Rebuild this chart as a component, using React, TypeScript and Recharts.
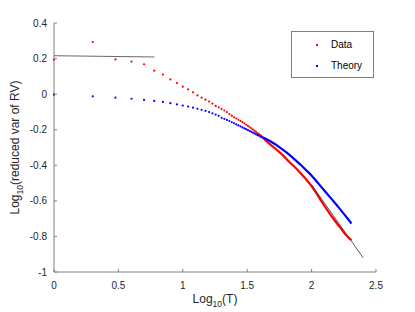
import { ComposedChart, Scatter, XAxis, YAxis, Legend } from 'recharts';

const RED = '#ff0000';
const BLUE = '#0000ff';
const AXIS = '#808080';
const TEXT = '#262626';
const FONT = '"Liberation Sans", Arial, Helvetica, sans-serif';

// step sizes T = 1..40, plotted at log10(T) as separate dots
const T_STEPS = [
  1, 2, 3, 4, 5, 6, 7, 8, 9, 10, 11, 12, 13, 14, 15, 16, 17, 18, 19, 20,
  21, 22, 23, 24, 25, 26, 27, 28, 29, 30, 31, 32, 33, 34, 35, 36, 37, 38, 39, 40,
];
const RED_STEPS = [
  0.194, 0.293, 0.195, 0.183, 0.168, 0.132, 0.11, 0.083, 0.062, 0.042,
  0.027, 0.01, -0.007, -0.02, -0.031, -0.042, -0.053, -0.066, -0.074, -0.084,
  -0.092, -0.101, -0.112, -0.121, -0.13, -0.137, -0.144, -0.15, -0.157, -0.164,
  -0.171, -0.178, -0.185, -0.192, -0.199, -0.206, -0.212, -0.219, -0.225, -0.231,
];
const BLUE_STEPS = [
  -0.003, -0.012, -0.02, -0.026, -0.032, -0.038, -0.044, -0.051, -0.058, -0.064,
  -0.07, -0.076, -0.082, -0.088, -0.094, -0.101, -0.108, -0.115, -0.122, -0.133,
  -0.139, -0.145, -0.151, -0.158, -0.164, -0.17, -0.176, -0.181, -0.187, -0.192,
  -0.197, -0.202, -0.207, -0.212, -0.217, -0.221, -0.226, -0.23, -0.234, -0.238,
];

// dense part (T > 40): dots merge into a solid trace
const TAIL_LOG_T = [
  1.602, 1.64, 1.68, 1.72, 1.757, 1.8, 1.835, 1.875, 1.913, 1.95,
  1.991, 2.03, 2.068, 2.107, 2.146, 2.185, 2.224, 2.26, 2.302, 2.309,
];
const RED_TAIL = [
  -0.231, -0.258, -0.284, -0.307, -0.33, -0.361, -0.387, -0.414, -0.443, -0.473,
  -0.508, -0.549, -0.593, -0.636, -0.677, -0.716, -0.752, -0.787, -0.817, -0.821,
];
const BLUE_TAIL = [
  -0.238, -0.25, -0.265, -0.283, -0.302, -0.325, -0.346, -0.371, -0.396, -0.422,
  -0.451, -0.483, -0.516, -0.549, -0.582, -0.615, -0.649, -0.682, -0.72, -0.728,
];

// reference fit lines
const FIT_SHORT = [
  { x: 0, y: 0.216 },
  { x: 0.78, y: 0.209 },
];
const FIT_LONG = [
  { x: 2.0, y: -0.51 },
  { x: 2.4, y: -0.92 },
];

const X_TICKS = [0, 0.5, 1, 1.5, 2, 2.5];
const Y_TICKS = [-1, -0.8, -0.6, -0.4, -0.2, 0, 0.2, 0.4];

const redDots = T_STEPS.map((t, i) => ({ x: Math.log10(t), y: RED_STEPS[i] }));
const blueDots = T_STEPS.map((t, i) => ({ x: Math.log10(t), y: BLUE_STEPS[i] }));
const redTail = TAIL_LOG_T.map((x, i) => ({ x, y: RED_TAIL[i] }));
const blueTail = TAIL_LOG_T.map((x, i) => ({ x, y: BLUE_TAIL[i] }));

const dot = (color: string) => (p: any) => <circle cx={p.cx} cy={p.cy} r={1.1} fill={color} />;
const noDot = () => <g />;

function BottomTick({ x, y, payload }: any) {
  return (
    <g>
      <line x1={x} y1={y} x2={x} y2={y - 3} stroke={AXIS} />
      <text x={x} y={y + 17} textAnchor="middle" fontSize={10} fill={TEXT} fontFamily={FONT}>
        {payload.value}
      </text>
    </g>
  );
}

function TopTick({ x, y }: any) {
  return <line x1={x} y1={y} x2={x} y2={y + 3} stroke={AXIS} />;
}

function LeftTick({ x, y, payload }: any) {
  return (
    <g>
      <line x1={x} y1={y} x2={x + 3} y2={y} stroke={AXIS} />
      <text x={x - 7} y={y + 3.5} textAnchor="end" fontSize={10} fill={TEXT} fontFamily={FONT}>
        {payload.value}
      </text>
    </g>
  );
}

function RightTick({ x, y }: any) {
  return <line x1={x} y1={y} x2={x - 3} y2={y} stroke={AXIS} />;
}

function XLabel({ viewBox }: any) {
  const cx = viewBox.x + viewBox.width / 2;
  return (
    <text x={cx} y={viewBox.y + 31} textAnchor="middle" fontSize={12} fill={TEXT} fontFamily={FONT}>
      <tspan>Log</tspan>
      <tspan fontSize={8.5} dy={4}>10</tspan>
      <tspan dy={-4}>(T)</tspan>
    </text>
  );
}

function YLabel({ viewBox }: any) {
  const cy = viewBox.y + viewBox.height / 2;
  const x = 19;
  return (
    <text
      x={x}
      y={cy}
      transform={`rotate(-90 ${x} ${cy})`}
      textAnchor="middle"
      fontSize={12}
      fill={TEXT}
      fontFamily={FONT}
    >
      <tspan>Log</tspan>
      <tspan fontSize={8.5} dy={4}>10</tspan>
      <tspan dy={-4}>(reduced var of RV)</tspan>
    </text>
  );
}

function LegendBox() {
  const row = (color: string, label: string) => (
    <div style={{ display: 'flex', alignItems: 'center', height: 21 }}>
      <span style={{ width: 2, height: 2, background: color, marginLeft: 24, marginRight: 13 }} />
      <span>{label}</span>
    </div>
  );
  return (
    <div
      style={{
        boxSizing: 'border-box',
        width: 83,
        height: 47,
        border: `1px solid ${AXIS}`,
        background: '#fff',
        fontFamily: FONT,
        fontSize: 10,
        color: '#000',
        paddingTop: 2,
      }}
    >
      {row(RED, 'Data')}
      {row(BLUE, 'Theory')}
    </div>
  );
}

export default function App() {
  return (
    <div style={{ position: 'absolute', left: 0, top: 0, width: 415, height: 312, background: '#fff' }}>
      <ComposedChart width={415} height={312} margin={{ top: 23, right: 39, bottom: 0, left: 0 }}>
        <XAxis
          xAxisId="b"
          type="number"
          dataKey="x"
          domain={[0, 2.5]}
          ticks={X_TICKS}
          interval={0}
          height={40}
          tickSize={0}
          tickMargin={0}
          tickLine={false}
          axisLine={{ stroke: AXIS }}
          tick={BottomTick}
          label={<XLabel />}
        />
        <XAxis
          xAxisId="t"
          orientation="top"
          type="number"
          dataKey="x"
          domain={[0, 2.5]}
          ticks={X_TICKS}
          interval={0}
          height={0}
          tickSize={0}
          tickMargin={0}
          tickLine={false}
          axisLine={{ stroke: AXIS }}
          tick={TopTick}
        />
        <YAxis
          yAxisId="l"
          type="number"
          dataKey="y"
          domain={[-1, 0.4]}
          ticks={Y_TICKS}
          interval={0}
          width={54}
          tickSize={0}
          tickMargin={0}
          tickLine={false}
          axisLine={{ stroke: AXIS }}
          tick={LeftTick}
          label={<YLabel />}
        />
        <YAxis
          yAxisId="r"
          orientation="right"
          type="number"
          dataKey="y"
          domain={[-1, 0.4]}
          ticks={Y_TICKS}
          interval={0}
          width={0}
          tickSize={0}
          tickMargin={0}
          tickLine={false}
          axisLine={{ stroke: AXIS }}
          tick={RightTick}
        />
        <Legend
          layout="vertical"
          align="center"
          verticalAlign="middle"
          content={<LegendBox />}
          wrapperStyle={{ position: 'absolute', left: 291, top: 31, width: 83, height: 47 }}
        />
        <Scatter xAxisId="b" yAxisId="l" data={redDots} shape={dot(RED)} isAnimationActive={false} />
        <Scatter xAxisId="b" yAxisId="l" data={blueDots} shape={dot(BLUE)} isAnimationActive={false} />
        <Scatter
          xAxisId="b"
          yAxisId="l"
          data={redTail}
          shape={noDot}
          line={{ stroke: RED, strokeWidth: 2.2 }}
          isAnimationActive={false}
        />
        <Scatter
          xAxisId="b"
          yAxisId="l"
          data={blueTail}
          shape={noDot}
          line={{ stroke: BLUE, strokeWidth: 2.2 }}
          isAnimationActive={false}
        />
        <Scatter
          xAxisId="b"
          yAxisId="l"
          data={FIT_SHORT}
          shape={noDot}
          line={{ stroke: '#404040', strokeWidth: 0.8 }}
          isAnimationActive={false}
        />
        <Scatter
          xAxisId="b"
          yAxisId="l"
          data={FIT_LONG}
          shape={noDot}
          line={{ stroke: '#303030', strokeWidth: 0.8 }}
          isAnimationActive={false}
        />
      </ComposedChart>
    </div>
  );
}
